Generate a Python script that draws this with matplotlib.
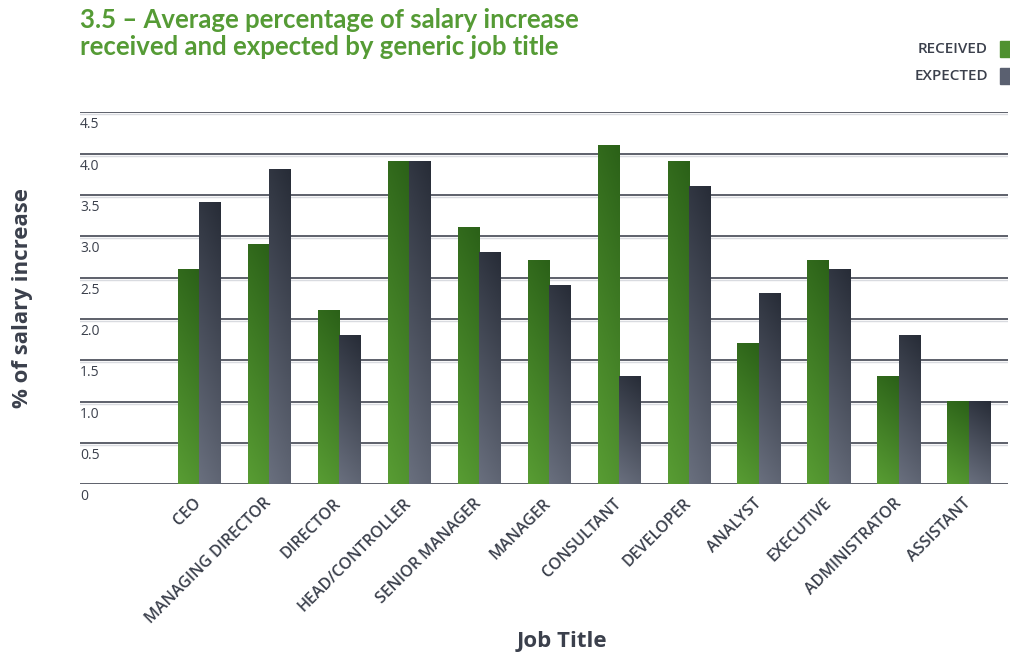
import numpy as np
import matplotlib.pyplot as plt
import matplotlib.transforms as mtransforms
from matplotlib.colors import LinearSegmentedColormap
from matplotlib.patches import Rectangle

jobs = ["CEO", "MANAGING DIRECTOR", "DIRECTOR", "HEAD/CONTROLLER", "SENIOR MANAGER",
        "MANAGER", "CONSULTANT", "DEVELOPER", "ANALYST", "EXECUTIVE",
        "ADMINISTRATOR", "ASSISTANT"]
received = [2.6, 2.9, 2.1, 3.9, 3.1, 2.7, 4.1, 3.9, 1.7, 2.7, 1.3, 1.0]
expected = [3.4, 3.8, 1.8, 3.9, 2.8, 2.4, 1.3, 3.6, 2.3, 2.6, 1.8, 1.0]
y_ticks = [0, 0.5, 1.0, 1.5, 2.0, 2.5, 3.0, 3.5, 4.0, 4.5]
y_tick_labels = ["0", "0.5", "1.0", "1.5", "2.0", "2.5", "3.0", "3.5", "4.0", "4.5"]

TEXT = "#3b404c"
TITLE_GREEN = "#559b35"
GRID = "#50545f"
SANS = ["Open Sans", "DejaVu Sans"]

green_cmap = LinearSegmentedColormap.from_list("g", ["#589c33", "#2b6118"])
grey_cmap = LinearSegmentedColormap.from_list("k", ["#696f7e", "#272c37"])

plt.rcParams["font.family"] = SANS

fig = plt.figure(figsize=(10.1, 6.53), dpi=100)
ax = fig.add_axes([0.0792, 0.2583, 0.9188, 0.5697])

x = np.arange(len(jobs))
w = 0.305
bars_r = ax.bar(x - w / 2, received, w, color="none", zorder=3)
bars_e = ax.bar(x + w / 2, expected, w, color="none", zorder=3)

# diagonal gradient: dark at the top-right, light at the bottom
yy, xx = np.mgrid[0:1:100j, 0:1:20j]
grad = 0.85 * yy + 0.15 * xx


def fill_gradient(bars, cmap):
    for b in bars:
        x0, y0 = b.get_x(), b.get_y()
        ax.imshow(grad, extent=[x0, x0 + b.get_width(), y0, y0 + b.get_height()],
                  origin="lower", cmap=cmap, vmin=0, vmax=1, aspect="auto",
                  interpolation="bicubic", zorder=3)


fill_gradient(bars_r, green_cmap)
fill_gradient(bars_e, grey_cmap)

shadow = mtransforms.offset_copy(ax.get_yaxis_transform(), fig=fig, y=-2, units="dots")
for v in y_ticks:
    ax.axhline(v, color=GRID, lw=1.3, zorder=1)
    ax.plot([0, 1], [v, v], color="#d9dbe0", lw=1.0, zorder=0.9, transform=shadow)

for v, lbl in zip(y_ticks, y_tick_labels):
    ax.annotate(lbl, xy=(0, v), xycoords=ax.get_yaxis_transform(),
                xytext=(0, -5), textcoords="offset pixels",
                ha="left", va="top", fontsize=10, color=TEXT)

ax.set_xlim(-1.7, 11.56)
ax.set_ylim(0, 4.5)
ax.set_yticks([])
ax.set_xticks(x)
ax.set_xticklabels(jobs, rotation=45, ha="right", va="center",
                   rotation_mode="anchor", fontsize=11.5, fontweight="semibold",
                   color=TEXT)
ax.tick_params(axis="x", length=0, pad=12)
for s in ax.spines.values():
    s.set_visible(False)

fig.text(562 / 1010, 1 - 641 / 653, "Job Title", ha="center", va="center",
         fontsize=16, fontweight="bold", color=TEXT)
fig.text(0.022, 0.543, "% of salary increase", rotation=90, ha="center", va="center",
         fontsize=16, fontweight="bold", color=TEXT)

fig.text(0.0792, 0.988, "3.5 \u2013 Average percentage of salary increase\n"
         "received and expected by generic job title",
         ha="left", va="top", fontsize=18.5, fontweight="bold", color=TITLE_GREEN,
         family=["Lato", "DejaVu Sans"], linespacing=1.18)

# legend
legend_items = [("RECEIVED", "#4f9130", 49), ("EXPECTED", "#5a6070", 76)]
for label, col, ypx in legend_items:
    fig.text(988 / 1010, 1 - ypx / 653, label, ha="right", va="center",
             fontsize=11, fontweight="semibold", color=TEXT)
    fig.patches.append(Rectangle((1000 / 1010, 1 - (ypx + 8) / 653), 11 / 1010, 16 / 653,
                                 transform=fig.transFigure, color=col))

fig.savefig("out.png", dpi=100)
